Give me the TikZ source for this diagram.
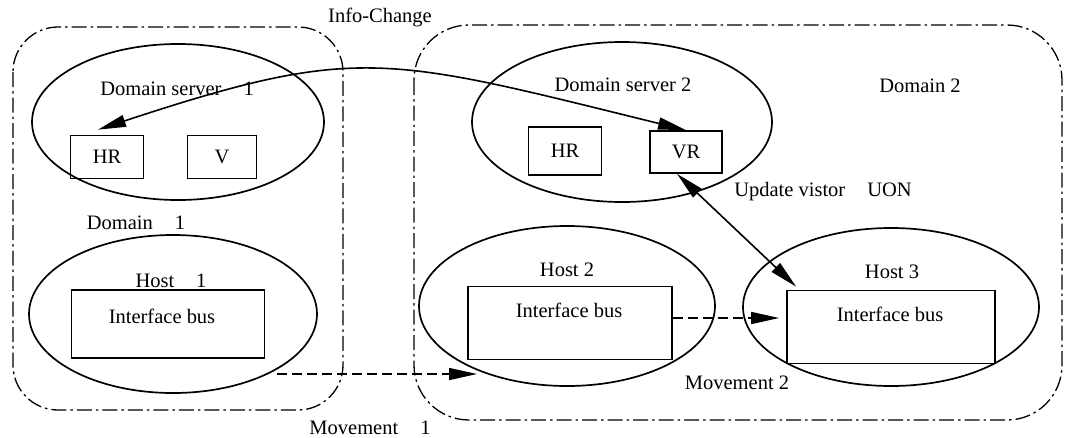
\documentclass[tikz,border=0pt]{standalone}
\usepackage{fontspec}
\setmainfont{Liberation Serif}
\usetikzlibrary{arrows.meta,shapes.geometric}
\tikzset{
  domainbox/.style={line width=1.3pt, dash pattern=on 15pt off 4pt on 2.5pt off 4pt},
  oval/.style={draw, ellipse, line width=1.7pt, inner sep=0pt},
  sbox/.style={draw, rectangle, line width=1.7pt, inner sep=0pt},
  lbl/.style={inner sep=0pt, font=\fontsize{20.5}{24}\selectfont},
  tip/.style={-{Triangle[length=28pt 0 0,width=12pt 0 0]}},
  dtip/.style={{Triangle[length=28pt 0 0,width=12pt 0 0]}-{Triangle[length=28pt 0 0,width=12pt 0 0]}},
  link/.style={line width=1.6pt},
  move/.style={line width=1.6pt, dash pattern=on 10pt off 5pt}
}
\begin{document}
\begin{tikzpicture}[x=1pt,y=-1pt]
\useasboundingbox[fill=white] (0,0) rectangle (1072,437);
% domains
\draw[domainbox, rounded corners=45pt] (13,27) rectangle (343,410);
\draw[domainbox, rounded corners=55pt] (414,25) rectangle (1062,420);
% domain 1
\node[oval, minimum width=292pt, minimum height=156pt] (ds1) at (178,122) {};
\node[lbl] (ds1t) at (177,89) {Domain server\hspace{22pt}1};
\node[sbox, minimum width=73pt, minimum height=43pt] (hr1) at (107,157) {};
\node[lbl] at (hr1) {HR};
\node[sbox, minimum width=69pt, minimum height=43pt] (v1) at (222,157) {};
\node[lbl] at (v1) {V};
\node[lbl] (d1t) at (136,223) {Domain\hspace{22pt}1};
\node[oval, minimum width=288pt, minimum height=158pt] (h1) at (173,314) {};
\node[lbl] (h1t) at (171,281) {Host\hspace{22pt}1};
\node[sbox, minimum width=193pt, minimum height=68pt] (b1) at (168,324) {};
\node[lbl] (b1t) at (162,316) {Interface bus};
% domain 2
\node[oval, minimum width=300pt, minimum height=160pt] (ds2) at (622,122) {};
\node[lbl] (ds2t) at (623,85) {Domain server 2};
\node[sbox, minimum width=73pt, minimum height=48pt] (hr2) at (565,151) {};
\node[lbl] at (hr2) {HR};
\node[sbox, minimum width=72pt, minimum height=42pt] (vr) at (686,152) {};
\node[lbl] at (vr) {VR};
\node[lbl] (d2t) at (920,86) {Domain 2};
\node[lbl] (upd) at (823,192) {Update vistor\hspace{22pt}UON};
\node[oval, minimum width=296pt, minimum height=160pt] (h2) at (567,306) {};
\node[lbl] (h2t) at (567,270) {Host 2};
\node[sbox, minimum width=204pt, minimum height=73pt] (b2) at (570,323) {};
\node[lbl] (b2t) at (569,310) {Interface bus};
\node[oval, minimum width=296pt, minimum height=158pt] (h3) at (891,307) {};
\node[lbl] (h3t) at (892,272) {Host 3};
\node[sbox, minimum width=208pt, minimum height=73pt] (b3) at (891,327) {};
\node[lbl] (b3t) at (890,314) {Interface bus};
% labels
\node[lbl] (info) at (380,17) {Info-Change};
\node[lbl] (mv1) at (370,428) {Movement\hspace{22pt}1};
\node[lbl] (mv2) at (737,383) {Movement 2};
% connectors
\draw[link, dtip] ([xshift=-9pt,yshift=5pt]hr1.north) .. controls (358,44) and (385,56) .. (vr.north);
\draw[link, dtip] ([xshift=-9pt]vr.south) -- ([xshift=10pt,yshift=3pt]b3.north west);
\coordinate (m1s) at (277,374);
\coordinate (m1e) at (477,374);
\draw[move, tip] (m1s) -- (m1e);
\draw[move, tip, shorten >=7pt] ([yshift=5pt]b2.east) -- ([yshift=5pt]b2.east -| b3.west);
\end{tikzpicture}
\end{document}
